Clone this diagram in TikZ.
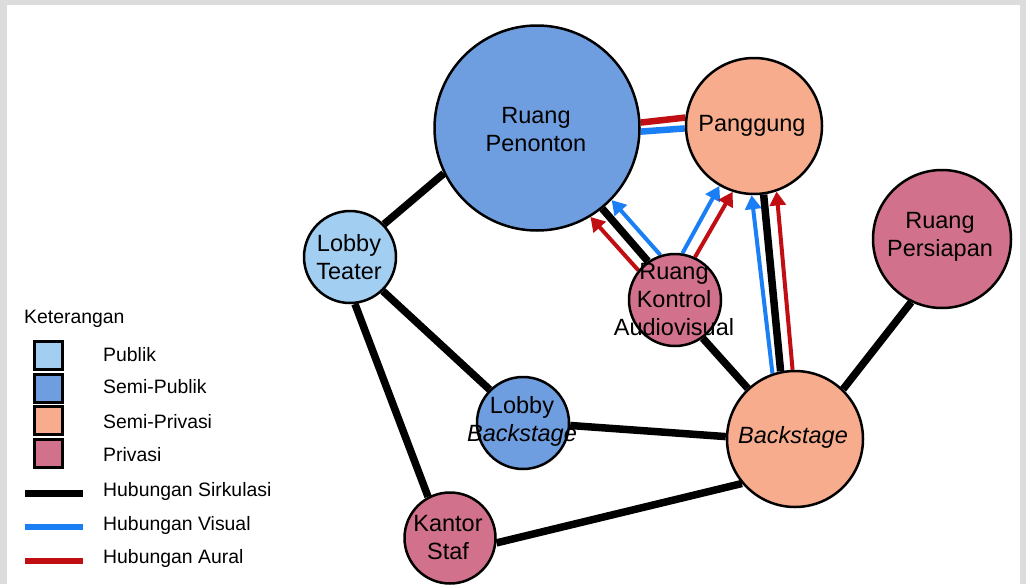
\documentclass[tikz,border=0pt]{standalone}
\usepackage{fontspec}
\setmainfont{Liberation Sans}
\usetikzlibrary{arrows.meta}
\pgfdeclarelayer{back}
\pgfdeclarelayer{page}
\pgfsetlayers{page,back,main}
\definecolor{publik}{HTML}{A2CEF2}
\definecolor{semipublik}{HTML}{6E9EE0}
\definecolor{semiprivasi}{HTML}{F8AC8E}
\definecolor{privasi}{HTML}{D2718B}
\definecolor{visline}{HTML}{1A7FF5}
\definecolor{aurline}{HTML}{C00E12}
\definecolor{wmark}{HTML}{DCDCDC}
\tikzset{
  room/.style={circle, draw=black, line width=2.5pt, inner sep=0pt, minimum size=#1},
  roomtext/.style={align=center, inner sep=0pt, font=\fontsize{23.5pt}{28pt}\selectfont},
  legtext/.style={anchor=west, inner sep=0pt, font=\fontsize{19.4pt}{23pt}\selectfont},
  legbox/.style={draw=black, line width=3pt, minimum size=28pt, inner sep=0pt},
  circline/.style={line width=7.5pt, black},
  visarrow/.style={line width=4pt, visline, -{Triangle[width=16pt,length=14pt]}},
  auarrow/.style={line width=4pt, aurline, -{Triangle[width=16pt,length=14pt]}},
  visbar/.style={line width=6.5pt, visline},
  aubar/.style={line width=6.5pt, aurline}
}
\begin{document}
\begin{tikzpicture}[x=1pt,y=-1pt]
\useasboundingbox (0,0) rectangle (1026,584);
% page with its faint frame
\begin{pgfonlayer}{page}
  \fill[white] (0,0) rectangle (1026,584);
  \fill[wmark] (0,0) rectangle (1026,5);
  \fill[wmark] (0,0) rectangle (7,584);
  \fill[wmark] (1020,0) rectangle (1026,584);
\end{pgfonlayer}

% rooms
\node[room=205pt, fill=semipublik] (rp) at (537,128) {};
\node[room=136pt, fill=semiprivasi] (pg) at (754,126) {};
\node[room=92pt, fill=publik] (lt) at (350,257) {};
\node[room=92pt, fill=semipublik] (lb) at (523,423) {};
\node[room=91pt, fill=privasi] (ks) at (450,538) {};
\node[room=136pt, fill=semiprivasi] (bs) at (795,439) {};
\node[room=138pt, fill=privasi] (rps) at (942,239) {};
\node[room=92pt, fill=privasi] (rka) at (675,300) {};

% room names
\node[roomtext] (rp-t) at (536,130) {Ruang\\Penonton};
\node[roomtext] (pg-t) at (752,126) {Panggung};
\node[roomtext] (lt-t) at (349,257) {Lobby\\Teater};
\node[roomtext] (lb-t) at (522,421) {Lobby\\\textit{Backstage}};
\node[roomtext] (ks-t) at (448,538) {Kantor\\Staf};
\node[roomtext] (bs-t) at (793,437) {\textit{Backstage}};
\node[roomtext] (rps-t) at (940,237) {Ruang\\Persiapan};
\node[roomtext] (rka-t) at (674,300) {Ruang\\Kontrol\\Audiovisual};

% relations
\begin{pgfonlayer}{back}
  % circulation
  \draw[circline] (lt.44) -- (rp.206);
  \draw[circline] (lt.-46) -- (lb.135);
  \draw[circline] (lt.-84) -- (ks.118);
  \draw[circline] (lb.-3) -- (bs.178);
  \draw[circline] (ks.-6) -- (bs.220);
  \draw[circline] (rka.-54) -- (bs.133);
  \draw[circline] (bs.46) -- (rps.244);
  \draw[circline] (rka.125) -- (rp.-51);
  \draw[circline] (bs.102) -- (pg.-82);
  % visual and aural
  \draw[aubar] (rp.3.3) -- (pg.173);
  \draw[visbar] (rp.-2.8) -- (pg.182.6);
  \draw[auarrow] (rka.141) -- (rp.-59);
  \draw[visarrow] (rka.108) -- (rp.-44);
  \draw[visarrow] (rka.81) -- (pg.240);
  \draw[auarrow] (rka.65) -- (pg.252);
  \draw[visarrow] (bs.109) -- (pg.268);
  \draw[auarrow] (bs.92) -- (pg.289);
\end{pgfonlayer}

% legend
\node[legtext] (leg-title) at (24,319) {Keterangan};
\node[legbox, fill=publik] (leg-b1) at (48.5,355) {};
\node[legbox, fill=semipublik] (leg-b2) at (48.5,388) {};
\node[legbox, fill=semiprivasi] (leg-b3) at (48.5,420) {};
\node[legbox, fill=privasi] (leg-b4) at (48.5,453) {};
\node[legtext] (leg-t1) at (103,355) {Publik};
\node[legtext] (leg-t2) at (103,387) {Semi-Publik};
\node[legtext] (leg-t3) at (103,422) {Semi-Privasi};
\node[legtext] (leg-t4) at (103,455) {Privasi};
\draw[line width=7pt, black] (25,493) -- (83,493);
\draw[line width=6pt, visline] (25,527) -- (83,527);
\draw[line width=6pt, aurline] (25,561) -- (83,561);
\node[legtext] (leg-t5) at (103,491) {Hubungan Sirkulasi};
\node[legtext] (leg-t6) at (103,525) {Hubungan Visual};
\node[legtext] (leg-t7) at (103,558) {Hubungan Aural};
\end{tikzpicture}
\end{document}
